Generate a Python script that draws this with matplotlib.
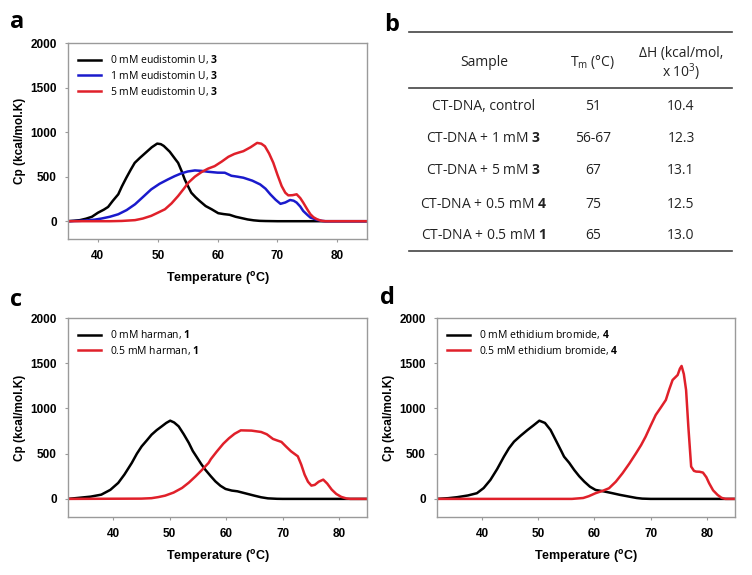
import matplotlib
matplotlib.use("Agg")
import matplotlib.pyplot as plt

plt.rcParams['font.family'] = ['Liberation Sans', 'DejaVu Sans']
plt.rcParams['mathtext.fontset'] = 'custom'
plt.rcParams['mathtext.rm'] = 'Open Sans'
plt.rcParams['mathtext.bf'] = 'Open Sans:bold'

# ---- panel a: eudistomin U, 3 ----
a_t0 = [35, 36, 37, 38, 39, 40, 41, 41.7, 42.5, 43.4, 44, 44.75, 45.5, 46.15, 47, 48, 49, 49.9,
        50.5, 51, 52, 53, 53.4, 54, 54.5, 55, 55.6, 56.3, 57, 58, 59, 60.1, 61, 62, 63, 64, 65,
        66, 67, 68, 70, 85]
a_cp0 = [0, 5, 12, 28, 50, 95, 130, 160, 230, 302, 390, 488, 580, 655, 710, 770, 830, 871,
         865, 845, 780, 690, 655, 560, 469, 400, 320, 270, 227, 170, 134, 90, 80, 72, 50, 35, 20,
         10, 4, 2, 0, 0]
a_t1 = [35, 37, 38, 39.5, 40.6, 42, 43.4, 44.8, 46.2, 47.5, 48.9, 50.3, 51.7, 52.8, 53.9, 55,
        56.2, 57.3, 58.4, 60, 61.2, 62.3, 63.3, 64.3, 65.8, 67.1, 68, 68.8, 69.7, 70.5, 71.3,
        72.1, 72.7, 73.2, 73.8, 74.3, 75, 75.5, 76.6, 77.5, 78, 85]
a_cp1 = [0, 4, 8, 18, 30, 50, 78, 125, 190, 270, 357, 420, 469, 505, 536, 558,
         570, 565, 555, 545, 544, 510, 500, 488, 455, 413, 365, 302, 240, 195, 210,
         238, 230, 209, 165, 115, 70, 41, 15, 3, 0, 0]
a_t5 = [35, 42, 44, 46.2, 47.5, 48.9, 50, 51.2, 52.3, 53.4, 54.3, 55.1, 56.2, 57.3, 58.4, 59.5,
        60.7, 61.8, 62.8, 63.5, 64.3, 65.5, 66.6, 67.3, 67.9, 68.6, 69.3, 70, 70.7, 71.3, 71.8,
        72.5, 73.2, 73.8, 74.3, 75, 75.5, 76, 76.6, 77.3, 78, 85]
a_cp5 = [0, 0, 3, 12, 30, 60, 95, 134, 200, 283, 360, 432, 500, 551, 590, 618,
         670, 723, 755, 770, 786, 830, 879, 870, 841, 760, 656, 520, 394, 320, 290,
         292, 302, 260, 209, 130, 78, 45, 22, 5, 0, 0]

# ---- panel c: harman, 1 ----
c_t0 = [32, 33.8, 36, 37.9, 39.5, 40.9, 42, 43.3, 44.2, 45.05, 46, 46.8, 47.7, 48.6, 49.4,
        50.1, 50.8, 51.6, 52.5, 53.4, 54.1, 54.9, 55.6, 56.3, 57.3, 58.1, 59, 59.9, 61, 62,
        63.5, 65, 66.2, 67.4, 69, 70, 85]
c_cp0 = [0, 11, 25, 47, 100, 177, 270, 398, 500, 581, 650, 710, 760, 802, 840,
         865, 845, 802, 715, 619, 530, 453, 385, 324, 250, 194, 145, 110, 92, 84,
         60, 36, 18, 6, 1, 0, 0]
c_t5 = [32, 45, 46.8, 48, 49.2, 50.7, 52.2, 53.4, 54.6, 55.8, 56.9, 57.3, 58.3, 59.5, 60.5,
        61.5, 62.6, 64.5, 66.2, 67.2, 68.3, 69.1, 69.8, 70.6, 71.5, 72.7, 73.3, 73.9, 74.5,
        75.1, 75.7, 76.4, 77.2, 77.9, 78.7, 79.5, 80.4, 81.3, 82, 85]
c_cp5 = [0, 3, 8, 20, 36, 70, 121, 180, 250, 325, 398, 440, 520, 610, 670,
         720, 758, 755, 740, 715, 663, 645, 630, 580, 526, 471, 380, 269, 190,
         147, 155, 190, 213, 170, 103, 55, 22, 5, 0, 0]

# ---- panel d: ethidium bromide, 4 ----
d_t0 = [32, 34, 35.6, 37.5, 39.1, 40.3, 41.5, 42.7, 43.9, 44.8, 45.7, 46.9, 48.1, 49.2, 50.2,
        51.2, 52.2, 53.2, 54.1, 54.6, 55.5, 56.4, 57.3, 58.2, 59.2, 60.2, 61.5, 62.3, 63.2,
        64.5, 66.2, 67.5, 68.5, 70, 85]
d_cp0 = [0, 8, 19, 38, 63, 120, 210, 330, 467, 560, 633, 700, 762, 815, 865,
         840, 762, 640, 530, 467, 400, 320, 250, 191, 135, 99, 85, 75, 63,
         45, 25, 10, 3, 0, 0]
d_t5 = [32, 56, 58, 59, 60.2, 61.5, 62.6, 63.8, 65, 66.2, 67.4, 68.3, 69.1, 70, 70.9, 71.8,
        72.7, 73.3, 73.9, 74.8, 75.2, 75.5, 75.9, 76.3, 76.7, 77.2, 77.7, 78.1, 78.7, 79.3,
        79.9, 80.4, 81.1, 81.9, 82.6, 83.3, 85]
d_cp5 = [0, 0, 10, 30, 63, 90, 118, 190, 284, 390, 505, 595, 688, 810, 928, 1010,
         1094, 1210, 1315, 1370, 1440, 1470, 1380, 1204, 800, 357, 310, 302, 300, 291,
         240, 173, 95, 44, 12, 0, 0]

# ---- panel b: table ----
samples = ["CT-DNA, control", "CT-DNA + 1 mM $\\mathbf{3}$", "CT-DNA + 5 mM $\\mathbf{3}$",
           "CT-DNA + 0.5 mM $\\mathbf{4}$", "CT-DNA + 0.5 mM $\\mathbf{1}$"]
tm_vals = ["51", "56-67", "67", "75", "65"]
dh_vals = ["10.4", "12.3", "13.1", "12.5", "13.0"]

BLACK = '#000000'
BLUE = '#1a1acc'
RED = '#e0202a'
XLAB = "Temperature ($^{\\mathbf{o}}$C)"

fig = plt.figure(figsize=(7.52, 5.75), dpi=100)


def style(ax, xmin):
    ax.set_xlim(xmin, 85)
    ax.set_ylim(-200, 2000)
    ax.set_xticks([40, 50, 60, 70, 80])
    ax.set_yticks([0, 500, 1000, 1500, 2000])
    for s in ax.spines.values():
        s.set_color('#9a9a9a')
        s.set_linewidth(1.0)
    ax.tick_params(direction='out', length=2, color='#9a9a9a', labelsize=8.5, pad=6)
    for lab in ax.get_xticklabels() + ax.get_yticklabels():
        lab.set_fontweight('bold')
    ax.set_xlabel(XLAB, fontsize=9, fontweight='bold', labelpad=6)
    ax.set_ylabel("Cp (kcal/mol.K)", fontsize=8.5, fontweight='bold', labelpad=3)


def leg(ax):
    ax.legend(loc='upper left', frameon=False, handlelength=2.2,
              handletextpad=0.8, labelspacing=0.25, borderaxespad=0.6,
              prop={'family': 'Open Sans', 'size': 7.5})


# panel a
axa = fig.add_axes([0.0904, 0.5843, 0.398, 0.3409])
axa.plot(a_t0, a_cp0, color=BLACK, lw=1.8, label="0 mM eudistomin U, $\\mathbf{3}$")
axa.plot(a_t1, a_cp1, color=BLUE, lw=1.8, label="1 mM eudistomin U, $\\mathbf{3}$")
axa.plot(a_t5, a_cp5, color=RED, lw=1.8, label="5 mM eudistomin U, $\\mathbf{3}$")
style(axa, 35)
leg(axa)

# panel c
axc = fig.add_axes([0.0904, 0.1009, 0.398, 0.346])
axc.plot(c_t0, c_cp0, color=BLACK, lw=1.8, label="0 mM harman, $\\mathbf{1}$")
axc.plot(c_t5, c_cp5, color=RED, lw=1.8, label="0.5 mM harman, $\\mathbf{1}$")
style(axc, 32)
leg(axc)

# panel d
axd = fig.add_axes([0.5811, 0.1009, 0.3963, 0.346])
axd.plot(d_t0, d_cp0, color=BLACK, lw=1.8, label="0 mM ethidium bromide, $\\mathbf{4}$")
axd.plot(d_t5, d_cp5, color=RED, lw=1.8, label="0.5 mM ethidium bromide, $\\mathbf{4}$")
style(axd, 32)
leg(axd)


# panel b table, placed in figure pixel coords
def fx(px):
    return px / 752


def fy(py):
    return 1 - py / 575


for yy in (32, 88, 251):
    fig.add_artist(plt.Line2D([fx(409), fx(732)], [fy(yy), fy(yy)], color='#444444', lw=1.2))

tprops = dict(family='Open Sans', fontsize=10, ha='center', va='center', color='#222222')
fig.text(fx(484), fy(62), "Sample", **tprops)
fig.text(fx(593), fy(62), "T$_\\mathrm{m}$ (°C)", **tprops)
fig.text(fx(681), fy(53), "ΔH (kcal/mol,", **tprops)
fig.text(fx(681), fy(72), "x 10$^\\mathrm{3}$)", **tprops)
rows_y = [106, 138, 171, 204, 236]
for s, tm, dh, yy in zip(samples, tm_vals, dh_vals, rows_y):
    fig.text(fx(484), fy(yy), s, **tprops)
    fig.text(fx(593), fy(yy), tm, **tprops)
    fig.text(fx(681), fy(yy), dh, **tprops)

# panel letters
lp = dict(fontsize=17, fontweight='bold', family='Open Sans', va='center', ha='left')
fig.text(fx(10), fy(22), "a", **lp)
fig.text(fx(384), fy(25), "b", **lp)
fig.text(fx(10), fy(300), "c", **lp)
fig.text(fx(380), fy(298), "d", **lp)

fig.savefig("out.png", dpi=100)
